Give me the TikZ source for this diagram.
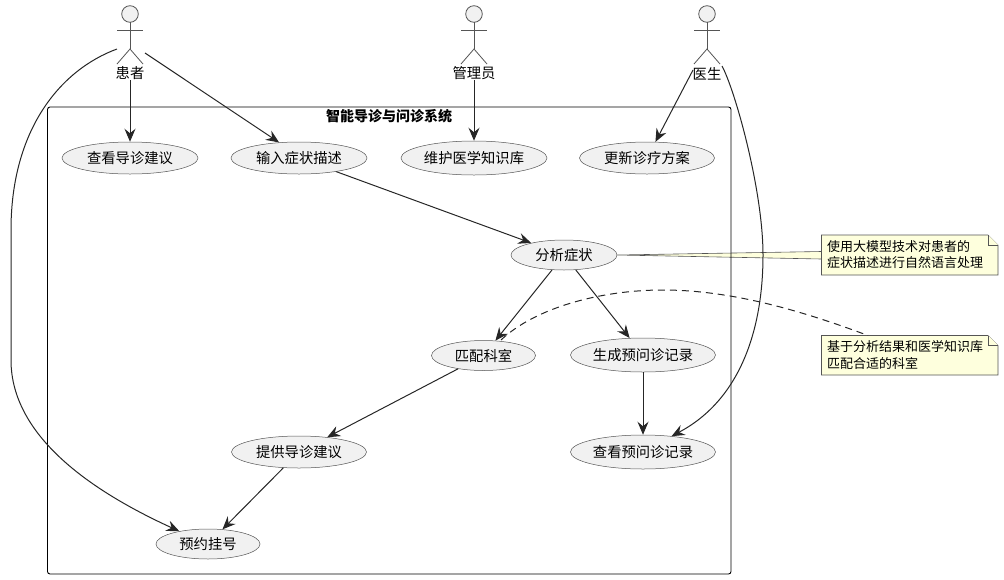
\documentclass[tikz,border=0pt]{standalone}
\usepackage{fontspec}
\setmainfont{Noto Sans CJK SC}
\usepackage{tikz}
\usetikzlibrary{arrows.meta, shapes.geometric}

\definecolor{usecasefill}{HTML}{F1F1F1}
\definecolor{notefill}{HTML}{FEFFDD}
\definecolor{edgegray}{HTML}{555555}

\tikzset{
    usecase/.style={ellipse, draw=edgegray, line width=0.5pt, fill=usecasefill, inner sep=0pt, minimum height=32pt, font=\fontsize{14.3pt}{16pt}\selectfont},
    actorline/.style={draw=edgegray, line width=0.8pt},
    actorname/.style={inner sep=0pt, font=\fontsize{14.3pt}{16pt}\selectfont},
    link/.style={line width=1pt, draw=black!85, -{Stealth[length=13pt, width=11pt, inset=4.5pt]}},
    curveline/.style={line width=1pt, draw=black!85},
    notebox/.style={draw=edgegray, line width=0.6pt, fill=notefill},
    notetext/.style={inner sep=0pt, anchor=north west, align=left, font=\fontsize{13pt}{16.5pt}\selectfont}
}

\begin{document}
\begin{tikzpicture}[x=1pt, y=-1pt]
    \useasboundingbox (0, 0) rectangle (1004, 579);

    \coordinate (N1) at (821.5, 235);
    \coordinate (N2) at (988, 235);
    \coordinate (N3) at (998, 245);
    \coordinate (N4) at (998, 275);
    \coordinate (N5) at (821.5, 275);
    \coordinate (M1) at (821.5, 335.5);
    \coordinate (M2) at (988, 335.5);
    \coordinate (M3) at (998, 345.5);
    \coordinate (M4) at (998, 375);
    \coordinate (M5) at (821.5, 375);

    % use cases
    \node[usecase, minimum width=136pt] (chakan) at (130, 158) {查看导诊建议};
    \node[usecase, minimum width=136pt] (shuru) at (299, 158) {输入症状描述};
    \node[usecase, minimum width=146pt, minimum height=34pt] (weihu) at (474, 158) {维护医学知识库};
    \node[usecase, minimum width=135pt] (gengxin) at (647, 158) {更新诊疗方案};
    \node[usecase, minimum width=106pt, minimum height=30pt] (fenxi) at (564, 255) {分析症状};
    \node[usecase, minimum width=104pt, minimum height=30pt] (pipei) at (483.5, 355.5) {匹配科室};
    \node[usecase, minimum width=145pt, minimum height=34pt] (shengcheng) at (643, 355) {生成预问诊记录};
    \node[usecase, minimum width=135pt] (tigong) at (299, 452) {提供导诊建议};
    \node[usecase, minimum width=145pt, minimum height=34pt] (jilu) at (643, 452) {查看预问诊记录};
    \node[usecase, minimum width=104pt, minimum height=30pt] (yuyue) at (208, 544) {预约挂号};

    % notes
    \draw[notebox] (fenxi.east) -- (821.5, 251.5) -- (821.5, 259) -- cycle;
    \draw[notebox] (N1) -- (N2) -- (N3) -- (N4) -- (N5) -- cycle;
    \draw[notebox] (N2) -- (988, 245) -- (N3);
    \node[notetext] (noteA) at (827, 240) {使用大模型技术对患者的\\症状描述进行自然语言处理};
    \draw[notebox] (M1) -- (M2) -- (M3) -- (M4) -- (M5) -- cycle;
    \draw[notebox] (M2) -- (988, 345.5) -- (M3);
    \node[notetext] (noteB) at (827, 340.5) {基于分析结果和医学知识库\\匹配合适的科室};

    % system frame
    \draw[line width=0.9pt, rounded corners=2.5pt] (47.5, 107) rectangle (731, 574);
    \node[inner sep=0pt, font=\fontsize{14pt}{16pt}\selectfont\bfseries] (xitong) at (389, 116) {智能导诊与问诊系统};

    % actors
    \foreach \id/\xpos/\txt in {huanzhe/130/患者, guanli/474/管理员, yisheng/707/医生}{
        \draw[actorline, fill=usecasefill] (\xpos, 14) circle (8.3);
        \draw[actorline] (\xpos, 22.3) -- (\xpos, 49);
        \draw[actorline] (\xpos-13, 30) -- (\xpos+13, 30);
        \draw[actorline] (\xpos-13, 64) -- (\xpos, 49) -- (\xpos+13, 64);
        \node[actorname] (\id) at (\xpos, 73.5) {\txt};
    }

    % free ends at the actors
    \coordinate (P1) at (117, 49);
    \coordinate (P2) at (145, 53);
    \coordinate (D1) at (693, 70);
    \coordinate (D2) at (722, 66);
    \coordinate (B1) at (501, 340);
    \coordinate (B2) at (868, 335.5);

    \draw[link] (huanzhe) -- (chakan);
    \draw[link] (P2) -- (shuru.142);
    \draw[link] (guanli) -- (weihu);
    \draw[link] (D1) -- (gengxin);
    \draw[link] (shuru) -- (fenxi);
    \draw[link] (fenxi) -- (pipei);
    \draw[link] (fenxi) -- (shengcheng);
    \draw[link] (shengcheng) -- (jilu);
    \draw[link] (pipei) -- (tigong);
    \draw[link] (tigong) -- (yuyue);
    \draw[link] (P1) .. controls (60, 70) and (11, 130) .. (11, 230) -- (11, 360) .. controls (11, 440) and (100, 495) .. (yuyue.156);
    \draw[link] (D2) .. controls (735, 90) and (763, 190) .. (763, 255) .. controls (763, 330) and (740, 400) .. (jilu.29);
    \draw[curveline, dashed, dash pattern=on 7pt off 5pt] (B1) .. controls (535, 308) and (600, 290) .. (663, 290) .. controls (730, 290) and (800, 310) .. (B2);

\end{tikzpicture}
\end{document}
